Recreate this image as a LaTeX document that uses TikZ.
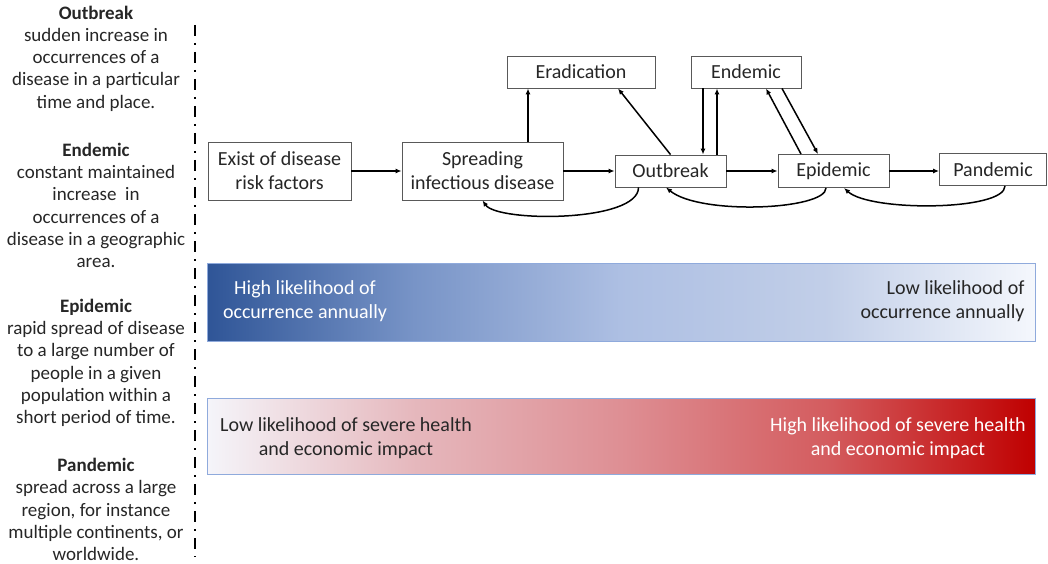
\documentclass[tikz,border=0pt]{standalone}
\usepackage{fontspec}
\setmainfont{Carlito}
\usetikzlibrary{arrows.meta}
\pgfdeclarehorizontalshading{blueshade}{100bp}{rgb(0bp)=(0.184,0.333,0.592); rgb(25bp)=(0.184,0.333,0.592); rgb(37.5bp)=(0.47,0.58,0.78); rgb(50bp)=(0.68,0.75,0.89); rgb(62.5bp)=(0.76,0.81,0.91); rgb(75bp)=(0.96,0.97,0.99); rgb(100bp)=(0.96,0.97,0.99)}
\pgfdeclarehorizontalshading{redshade}{100bp}{rgb(0bp)=(0.96,0.96,0.98); rgb(25bp)=(0.96,0.96,0.98); rgb(37.5bp)=(0.90,0.72,0.74); rgb(50bp)=(0.87,0.56,0.58); rgb(62.5bp)=(0.83,0.36,0.37); rgb(75bp)=(0.75,0,0); rgb(100bp)=(0.75,0,0)}
\definecolor{txt}{RGB}{38,38,38}
\definecolor{barline}{RGB}{143,170,220}
\begin{document}
\begin{tikzpicture}[x=1pt,y=-1pt,
  box/.style={draw=black!65, line width=0.9pt, fill=white, align=center, font=\fontsize{20}{24}\selectfont, text=txt, inner sep=0pt},
  arr/.style={-{Latex[length=6pt,width=5pt]}, line width=1.5pt},
  def/.style={align=center, font=\fontsize{19}{22.3}\selectfont, text=txt},
  bartext/.style={align=center, font=\fontsize{20}{24}\selectfont, text=txt},
  bar/.style={draw=barline, line width=0.8pt, minimum width=828pt, inner sep=0pt}]
\useasboundingbox (0,0) rectangle (1048,564);

% left definitions
\node[def] (dout) at (96,58.5) {\textbf{Outbreak}\\sudden increase in\\occurrences of a\\disease in a particular\\time and place.};
\node[def] (dend) at (96,205.5) {\textbf{Endemic}\\constant maintained\\increase\ \ in\\occurrences of a\\disease in a geographic\\area.};
\node[def] (depi) at (96,363) {\textbf{Epidemic}\\rapid spread of disease\\to a large number of\\people in a given\\population within a\\short period of time.};
\node[def] (dpan) at (96,509.5) {\textbf{Pandemic}\\spread across a large\\region, for instance\\multiple continents, or\\worldwide.};

% separator
\coordinate (dtop) at (195,25);
\coordinate (dbot) at (195,557);
\draw[line width=2.4pt, dash pattern=on 11pt off 7pt on 2pt off 7pt] (dtop) -- (dbot);

% flow boxes
\node[box, minimum width=143pt, minimum height=58pt] (exist) at (279.5,171) {Exist of disease\\risk factors};
\node[box, minimum width=161pt, minimum height=58pt] (spread) at (482.5,171) {Spreading\\infectious disease};
\node[box, minimum width=148pt, minimum height=32pt] (erad) at (581,72) {Eradication};
\node[box, minimum width=111pt, minimum height=32pt] (outb) at (670.5,171) {Outbreak};
\node[box, minimum width=110pt, minimum height=32pt] (endem) at (746,72) {Endemic};
\node[box, minimum width=111pt, minimum height=33pt] (epid) at (833.5,171) {Epidemic};
\node[box, minimum width=107pt, minimum height=32pt] (pand) at (993,169.5) {Pandemic};

% straight arrows
\draw[arr] (exist) -- (spread);
\draw[arr] (spread) -- (outb);
\draw[arr] (outb) -- (epid);
\draw[arr] (epid.east) -- (epid.east -| pand.west);
\draw[arr] ([xshift=45.5pt]spread.north) -- ([xshift=45.5pt]spread.north |- erad.south);
\draw[arr] (outb.north) -- ([xshift=37pt]erad.south);
\draw[arr] ([xshift=-43pt]endem.south) -- ([xshift=-43pt]endem.south |- outb.north);
\draw[arr] ([xshift=-29pt]endem.south |- outb.north) -- ([xshift=-29pt]endem.south);
\draw[arr] ([xshift=-32.5pt]epid.north) -- ([xshift=20pt]endem.south);
\draw[arr] ([xshift=36pt]endem.south) -- ([xshift=-15.5pt]epid.north);

% curved return arrows
\draw[arr] ([xshift=-32pt]outb.south) .. controls +(0,35) and +(15,22) .. (spread.south);
\draw[arr] ([xshift=-7.5pt]epid.south) .. controls +(0,22) and +(34,28) .. ([xshift=-4.5pt]outb.south);
\draw[arr] ([xshift=12pt]pand.south) .. controls +(0,25) and +(26,24) .. ([xshift=10.5pt]epid.south);

% gradient bars
\node[bar, shading=blueshade, minimum height=78pt] (bbar) at (621,302) {};
\node[bar, shading=redshade, minimum height=76pt] (rbar) at (621,436) {};

\node[bartext, text=white] (bhigh) at (305,301) {High likelihood of\\occurrence annually};
\node[bartext, align=right, anchor=east] (blow) at (1028,301) {Low likelihood of\\occurrence annually};
\node[bartext] (rlow) at (346,438) {Low likelihood of severe health\\and economic impact};
\node[bartext, text=white] (rhigh) at (898,438) {High likelihood of severe health\\and economic impact};
\end{tikzpicture}
\end{document}
